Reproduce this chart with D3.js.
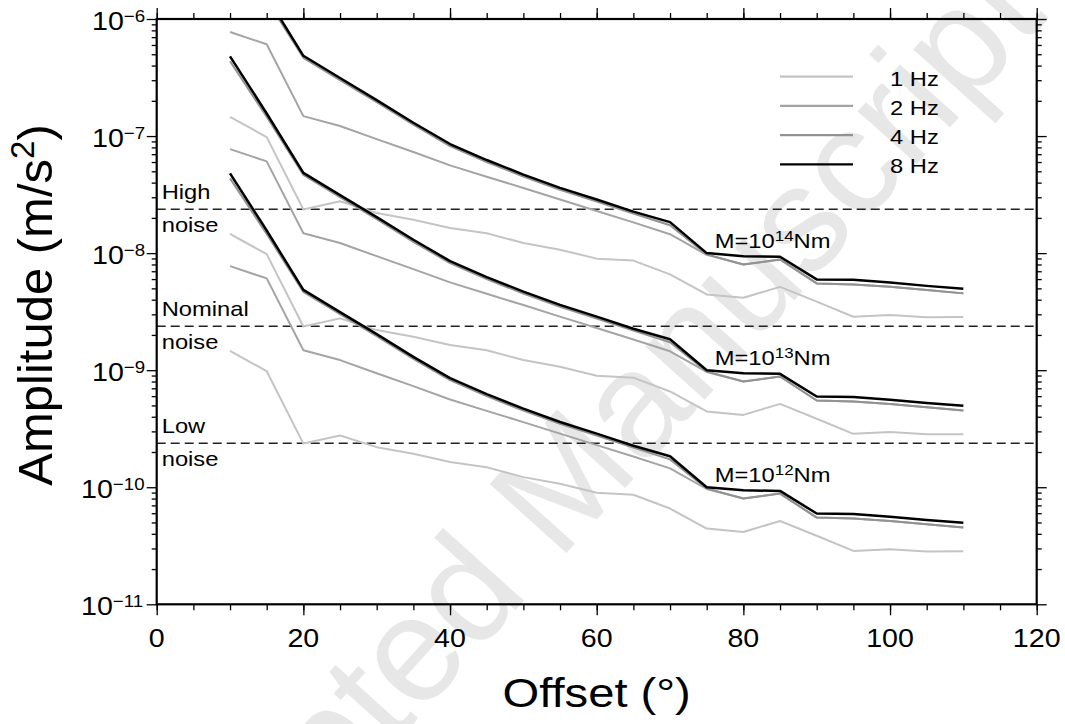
<!DOCTYPE html>
<html><head><meta charset="utf-8">
<script src="https://cdn.jsdelivr.net/npm/d3@7/dist/d3.min.js"></script>
<style>body{margin:0;background:#fff}svg{display:block}</style>
</head><body>
<svg id="chart" width="1065" height="724"></svg>
<script>
// ---------------- data ----------------
const offsets = [10,15,20,25,30,35,40,45,50,55,60,65,70,75,80,85,90,95,100,105,110];
const frequencies = ["1 Hz","2 Hz","4 Hz","8 Hz"];
const momentLabels = [["M=10","12","Nm"],["M=10","13","Nm"],["M=10","14","Nm"]];

// M = 10^12 Nm
const amp_M12_1Hz = [1.46e-9,9.80e-10,2.36e-10,2.77e-10,2.20e-10,1.93e-10,1.64e-10,1.48e-10,1.22e-10,1.07e-10,8.97e-11,8.63e-11,6.58e-11,4.44e-11,4.15e-11,5.15e-11,3.85e-11,2.86e-11,2.96e-11,2.83e-11,2.84e-11];
const amp_M12_2Hz = [7.74e-9,6.08e-9,1.48e-9,1.22e-9,9.42e-10,7.30e-10,5.62e-10,4.49e-10,3.60e-10,2.87e-10,2.29e-10,1.83e-10,1.45e-10,9.66e-11,8.00e-11,8.83e-11,5.51e-11,5.40e-11,5.15e-11,4.83e-11,4.53e-11];
const amp_M12_4Hz = [4.35e-8,1.46e-8,4.66e-9,3.01e-9,1.95e-9,1.25e-9,8.22e-10,6.00e-10,4.51e-10,3.48e-10,2.76e-10,2.18e-10,1.73e-10,9.75e-11,8.00e-11,8.83e-11,5.51e-11,5.40e-11,5.15e-11,4.83e-11,4.53e-11];
const amp_M12_8Hz = [4.80e-8,1.56e-8,4.85e-9,3.13e-9,2.03e-9,1.30e-9,8.55e-10,6.24e-10,4.69e-10,3.61e-10,2.87e-10,2.26e-10,1.84e-10,1.00e-10,9.42e-11,9.30e-11,5.96e-11,5.91e-11,5.60e-11,5.25e-11,4.97e-11];
// M = 10^13 Nm
const amp_M13_1Hz = [1.46e-8,9.80e-9,2.36e-9,2.77e-9,2.20e-9,1.93e-9,1.64e-9,1.48e-9,1.22e-9,1.07e-9,8.97e-10,8.63e-10,6.58e-10,4.44e-10,4.15e-10,5.15e-10,3.85e-10,2.86e-10,2.96e-10,2.83e-10,2.84e-10];
const amp_M13_2Hz = [7.74e-8,6.08e-8,1.48e-8,1.22e-8,9.42e-9,7.30e-9,5.62e-9,4.49e-9,3.60e-9,2.87e-9,2.29e-9,1.83e-9,1.45e-9,9.66e-10,8.00e-10,8.83e-10,5.51e-10,5.40e-10,5.15e-10,4.83e-10,4.53e-10];
const amp_M13_4Hz = [4.35e-7,1.46e-7,4.66e-8,3.01e-8,1.95e-8,1.25e-8,8.22e-9,6.00e-9,4.51e-9,3.48e-9,2.76e-9,2.18e-9,1.73e-9,9.75e-10,8.00e-10,8.83e-10,5.51e-10,5.40e-10,5.15e-10,4.83e-10,4.53e-10];
const amp_M13_8Hz = [4.80e-7,1.56e-7,4.85e-8,3.13e-8,2.03e-8,1.30e-8,8.55e-9,6.24e-9,4.69e-9,3.61e-9,2.87e-9,2.26e-9,1.84e-9,1.00e-9,9.42e-10,9.30e-10,5.96e-10,5.91e-10,5.60e-10,5.25e-10,4.97e-10];
// M = 10^14 Nm
const amp_M14_1Hz = [1.46e-7,9.80e-8,2.36e-8,2.77e-8,2.20e-8,1.93e-8,1.64e-8,1.48e-8,1.22e-8,1.07e-8,8.97e-9,8.63e-9,6.58e-9,4.44e-9,4.15e-9,5.15e-9,3.85e-9,2.86e-9,2.96e-9,2.83e-9,2.84e-9];
const amp_M14_2Hz = [7.74e-7,6.08e-7,1.48e-7,1.22e-7,9.42e-8,7.30e-8,5.62e-8,4.49e-8,3.60e-8,2.87e-8,2.29e-8,1.83e-8,1.45e-8,9.66e-9,8.00e-9,8.83e-9,5.51e-9,5.40e-9,5.15e-9,4.83e-9,4.53e-9];
const amp_M14_4Hz = [4.35e-6,1.46e-6,4.66e-7,3.01e-7,1.95e-7,1.25e-7,8.22e-8,6.00e-8,4.51e-8,3.48e-8,2.76e-8,2.18e-8,1.73e-8,9.75e-9,8.00e-9,8.83e-9,5.51e-9,5.40e-9,5.15e-9,4.83e-9,4.53e-9];
const amp_M14_8Hz = [4.80e-6,1.56e-6,4.85e-7,3.13e-7,2.03e-7,1.30e-7,8.55e-8,6.24e-8,4.69e-8,3.61e-8,2.87e-8,2.26e-8,1.84e-8,1.00e-8,9.42e-9,9.30e-9,5.96e-9,5.91e-9,5.60e-9,5.25e-9,4.97e-9];

const noiseNames = ["High","Nominal","Low"];
const noiseLevels = [2.37e-8, 2.37e-9, 2.37e-10];
const momentLabelAmp = [1.1e-10, 1.1e-9, 1.1e-8];

const xTicksMajor = [0,20,40,60,80,100,120];
const xTickLabels = ["0","20","40","60","80","100","120"];
const yDecades = [1e-11,1e-10,1e-9,1e-8,1e-7,1e-6];
const yTickExponents = ["\u221211","\u221210","\u22129","\u22128","\u22127","\u22126"];

// ---------------- drawing ----------------
const FONT = "'Liberation Sans', Arial, Helvetica, sans-serif";
const SX = 1.13;
const colors = {"1 Hz":"#c4c4c4","2 Hz":"#a4a4a4","4 Hz":"#929292","8 Hz":"#000000"};
const widths = {"1 Hz":2,"2 Hz":2,"4 Hz":2,"8 Hz":2.5};

const svg = d3.select("#chart");
const x = d3.scaleLinear().domain([0,120]).range([156.7,1036.7]);
const y = d3.scaleLog().domain([1e-11,1e-6]).range([604.3,19]);
const X0 = x.range()[0], X1 = x.range()[1], Y0 = y.range()[1], Y1 = y.range()[0];

function stext(parent, px, py, parts, o) {
  const g = parent.append("g").attr("transform", `translate(${px},${py}) scale(${o.sx==null?SX:o.sx},1)`);
  const t = g.append("text").attr("font-family", FONT).attr("font-size", o.size)
    .attr("text-anchor", o.anchor || "start").attr("fill", o.fill || "#000");
  const supSize = o.supSize || Math.round(o.size*0.7);
  const raise = o.raise || o.size*0.36;
  parts.forEach((p, i) => {
    if (i % 2 === 0) {
      const ts = t.append("tspan").text(p);
      if (i > 0) ts.attr("dy", raise);
    } else {
      t.append("tspan").text(p).attr("font-size", supSize).attr("dy", -raise);
    }
  });
  return g;
}

// watermark
svg.append("text").attr("transform","translate(112,1058) rotate(-48)")
  .attr("font-family", FONT).attr("font-size", 150).attr("fill", "#e7e7e7")
  .text("Accepted Manuscript");

svg.append("defs").append("clipPath").attr("id","plotclip")
  .append("rect").attr("x",X0).attr("y",Y0).attr("width",X1-X0).attr("height",Y1-Y0);

// noise lines
const noiseG = svg.append("g");
noiseLevels.forEach((v,i) => {
  noiseG.append("line").attr("x1",X0).attr("x2",X1).attr("y1",y(v)).attr("y2",y(v))
    .attr("stroke","#222").attr("stroke-width",1.5).attr("stroke-dasharray","9,5");
  stext(noiseG, X0+5, y(v)-10.5, [noiseNames[i]], {size:21});
  stext(noiseG, X0+5, y(v)+23, ["noise"], {size:21});
});

// curves
const series = [
  {f:"1 Hz", v:[amp_M12_1Hz, amp_M13_1Hz, amp_M14_1Hz]},
  {f:"2 Hz", v:[amp_M12_2Hz, amp_M13_2Hz, amp_M14_2Hz]},
  {f:"4 Hz", v:[amp_M12_4Hz, amp_M13_4Hz, amp_M14_4Hz]},
  {f:"8 Hz", v:[amp_M12_8Hz, amp_M13_8Hz, amp_M14_8Hz]}
];
const line = d3.line().x((d,i)=>x(offsets[i])).y(d=>y(d));
const curveG = svg.append("g").attr("clip-path","url(#plotclip)");
series.forEach(s => s.v.forEach(arr => {
  curveG.append("path").attr("d", line(arr)).attr("fill","none")
    .attr("stroke", colors[s.f]).attr("stroke-width", widths[s.f])
    .attr("stroke-linejoin","round");
}));

// moment labels
momentLabels.forEach((p,i) => {
  stext(svg, x(76.1), y(momentLabelAmp[i]), p, {size:21, supSize:15, raise:7});
});

// legend
frequencies.forEach((f,i) => {
  const ly = 76.7 + i*29.2;
  svg.append("line").attr("x1",780).attr("x2",853).attr("y1",ly).attr("y2",ly)
    .attr("stroke", colors[f]).attr("stroke-width", 2.2);
  stext(svg, 890, ly+9, [f], {size:21});
});

// axes
const minorX = d3.range(0,121,5);
const minorY = [];
yDecades.slice(0,-1).forEach(d => { for (let k=2;k<=9;k++) minorY.push(d*k); });

function drawAxis(axisFn, scale, values, size, transform) {
  const g = svg.append("g").attr("transform", transform)
    .call(axisFn(scale).tickValues(values).tickSize(size).tickFormat(""));
  g.select(".domain").remove();
  g.selectAll(".tick line").attr("stroke","#000").attr("stroke-width",1.3);
}
drawAxis(d3.axisBottom, x, minorX, 6, `translate(0,${Y1})`);
drawAxis(d3.axisBottom, x, xTicksMajor, 11, `translate(0,${Y1})`);
drawAxis(d3.axisTop, x, minorX, 6, `translate(0,${Y0})`);
drawAxis(d3.axisTop, x, xTicksMajor, 11, `translate(0,${Y0})`);
drawAxis(d3.axisLeft, y, minorY, 5, `translate(${X0},0)`);
drawAxis(d3.axisLeft, y, yDecades, 10, `translate(${X0},0)`);
drawAxis(d3.axisRight, y, minorY, 5, `translate(${X1},0)`);
drawAxis(d3.axisRight, y, yDecades, 10, `translate(${X1},0)`);

// frame
svg.append("rect").attr("x",X0).attr("y",Y0).attr("width",X1-X0).attr("height",Y1-Y0)
  .attr("fill","none").attr("stroke","#000").attr("stroke-width",2.2);

// tick labels
xTicksMajor.forEach((v,i) => {
  stext(svg, x(v), Y1+43, [xTickLabels[i]], {size:26, anchor:"middle", sx:1.1});
});
yDecades.forEach((v,i) => {
  const e = yTickExponents[i];
  stext(svg, 92 - 11*(e.length-2), y(v)+11, ["10", e], {size:26, supSize:17, raise:8, sx:1.1});
});

// axis titles
stext(svg, (X0+X1)/2, 706.7, ["Offset (\u00b0)"], {size:41, anchor:"middle", sx:1.15});
const yt = svg.append("text").attr("transform","translate(52,305) rotate(-90)")
  .attr("font-family", FONT).attr("font-size", 49).attr("text-anchor","middle").attr("fill","#000");
yt.append("tspan").text("Amplitude (m/s");
yt.append("tspan").text("2").attr("font-size",33).attr("dy",-18);
yt.append("tspan").text(")").attr("dy",18);
</script>
</body></html>
